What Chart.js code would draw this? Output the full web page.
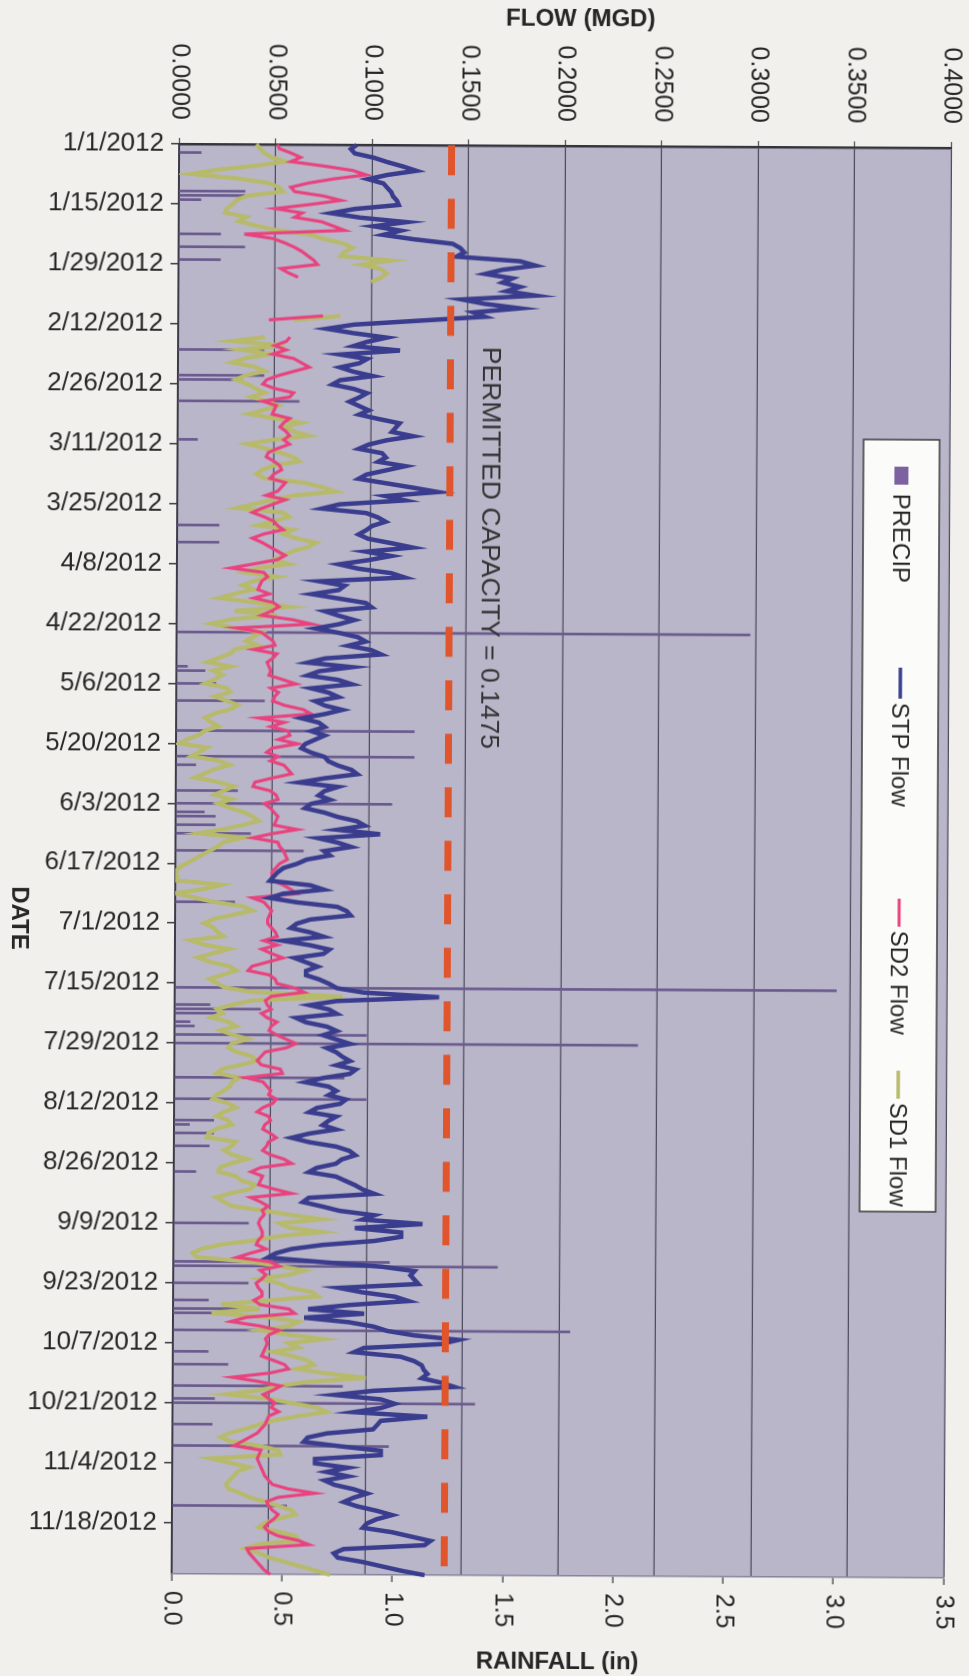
<!DOCTYPE html>
<html><head><meta charset="utf-8">
<script src="https://cdn.jsdelivr.net/npm/chart.js@4.4.1/dist/chart.umd.min.js"></script>
<style>
html,body{margin:0;padding:0;background:#f1f0ec;overflow:hidden;}
body{width:969px;height:1676px;position:relative;}
#wrap{position:absolute;width:1676px;height:969px;left:-353.5px;top:353.5px;transform:rotate(90.3deg);transform-origin:50% 50%;}
canvas{display:block;}
</style></head><body>
<div id="wrap"><canvas id="c" width="1676" height="969"></canvas></div>
<script>
// ---------- DATA ----------
const N_DAYS = 335;   // 1/1/2012 .. 11/30/2012, daily
const DATES = [];
for (let i = 0; i < N_DAYS; i++) { const d = new Date(2012, 0, 1 + i); DATES.push((d.getMonth() + 1) + '/' + d.getDate() + '/' + d.getFullYear()); }

const TICK_LABELS = ['1/1/2012','1/15/2012','1/29/2012','2/12/2012','2/26/2012','3/11/2012','3/25/2012','4/8/2012','4/22/2012','5/6/2012','5/20/2012','6/3/2012','6/17/2012','7/1/2012','7/15/2012','7/29/2012','8/12/2012','8/26/2012','9/9/2012','9/23/2012','10/7/2012','10/21/2012','11/4/2012','11/18/2012'];

const STP_FLOW = [
0.092,0.089,0.091,0.101,0.108,0.116,0.123,0.108,0.098,0.106,
0.108,0.110,0.111,0.113,0.114,0.091,0.079,0.094,0.118,0.101,
0.115,0.106,0.122,0.142,0.146,0.148,0.144,0.177,0.185,0.168,
0.159,0.173,0.168,0.177,0.170,0.185,0.147,0.159,0.177,0.153,
0.159,0.125,0.091,0.077,0.091,0.108,0.098,0.091,0.115,0.084,
0.098,0.094,0.084,0.091,0.101,0.084,0.080,0.091,0.098,0.094,
0.089,0.094,0.099,0.094,0.104,0.115,0.113,0.111,0.122,0.108,
0.099,0.094,0.106,0.108,0.104,0.118,0.108,0.098,0.094,0.108,
0.122,0.135,0.108,0.118,0.084,0.075,0.098,0.104,0.108,0.101,
0.098,0.094,0.099,0.111,0.122,0.098,0.111,0.099,0.084,0.094,
0.111,0.118,0.074,0.087,0.084,0.070,0.084,0.098,0.101,0.077,
0.084,0.092,0.084,0.072,0.084,0.094,0.098,0.089,0.101,0.106,
0.077,0.068,0.091,0.074,0.068,0.084,0.091,0.070,0.079,0.084,
0.072,0.077,0.086,0.077,0.065,0.074,0.077,0.070,0.077,0.072,
0.067,0.065,0.070,0.077,0.079,0.084,0.091,0.094,0.077,0.064,
0.084,0.077,0.074,0.080,0.070,0.067,0.077,0.084,0.094,0.098,
0.084,0.106,0.074,0.084,0.091,0.077,0.080,0.068,0.063,0.056,
0.053,0.051,0.049,0.070,0.077,0.056,0.049,0.063,0.084,0.089,
0.091,0.070,0.063,0.060,0.070,0.077,0.056,0.070,0.080,0.077,
0.062,0.068,0.074,0.068,0.068,0.075,0.080,0.084,0.098,0.137,
0.084,0.070,0.080,0.084,0.063,0.068,0.079,0.084,0.077,0.084,
0.091,0.079,0.084,0.087,0.091,0.084,0.094,0.091,0.077,0.068,
0.080,0.084,0.080,0.089,0.086,0.074,0.070,0.084,0.080,0.077,
0.084,0.070,0.061,0.070,0.084,0.091,0.094,0.087,0.084,0.074,
0.070,0.084,0.089,0.094,0.098,0.104,0.070,0.067,0.077,0.086,
0.104,0.098,0.129,0.094,0.118,0.118,0.104,0.077,0.061,0.053,
0.049,0.077,0.108,0.125,0.123,0.125,0.127,0.086,0.098,0.115,
0.122,0.091,0.070,0.099,0.068,0.091,0.104,0.111,0.125,0.148,
0.139,0.099,0.094,0.118,0.125,0.129,0.130,0.132,0.129,0.139,
0.146,0.104,0.084,0.108,0.115,0.108,0.094,0.132,0.108,0.106,
0.104,0.080,0.070,0.068,0.087,0.108,0.108,0.074,0.074,0.091,
0.080,0.091,0.079,0.084,0.094,0.101,0.094,0.089,0.096,0.106,
0.114,0.106,0.101,0.099,0.114,0.124,0.134,0.131,0.089,0.084,
0.086,0.099,0.109,0.119,0.131];

const SD2_FLOW = [
0.051,0.052,0.058,0.063,0.058,0.075,0.090,0.097,0.080,0.067,
0.058,0.060,0.075,0.084,0.068,0.050,0.064,0.060,0.074,0.080,
0.086,0.034,0.049,0.055,0.060,0.064,0.067,0.070,0.072,0.053,
0.057,0.062,null,null,null,null,null,null,null,null,
0.075,0.047,null,null,null,0.058,0.056,0.050,0.056,0.049,
0.060,0.064,0.068,0.060,0.052,0.046,0.044,0.050,0.060,0.058,
0.044,0.051,0.050,0.049,0.058,0.055,0.053,0.056,0.058,0.055,
0.058,0.052,0.047,0.046,0.050,0.053,0.054,0.050,0.048,0.056,
0.054,0.052,0.046,0.056,0.050,0.044,0.039,0.045,0.050,0.052,
0.055,0.045,0.039,0.044,0.048,0.052,0.056,0.052,0.040,0.028,
0.045,0.047,0.044,0.043,0.042,0.048,0.040,0.050,0.053,0.049,
0.044,0.060,0.070,0.031,0.044,0.047,0.050,0.051,0.040,0.052,
0.050,0.047,0.048,0.049,0.048,0.055,0.062,0.049,0.053,0.051,
0.050,0.056,0.066,0.070,0.043,0.056,0.049,0.058,0.059,0.053,
0.063,0.050,0.047,0.053,0.049,0.056,0.058,0.060,0.050,0.041,
0.040,0.049,0.052,0.053,0.046,0.049,0.051,0.053,0.052,0.051,
0.063,0.050,0.040,0.053,0.054,0.056,0.057,0.058,0.054,0.052,
0.050,0.050,0.051,0.056,0.060,0.063,0.040,0.046,0.048,0.050,
0.049,0.048,0.048,0.050,0.052,0.053,0.046,0.053,0.045,0.050,
0.056,0.048,0.040,0.038,0.049,0.052,0.053,0.062,0.067,0.050,
0.047,0.048,0.050,0.045,0.048,0.053,0.050,0.049,0.053,0.058,
0.063,0.058,0.047,0.045,0.043,0.045,0.055,0.056,0.037,0.046,
0.048,0.050,0.049,0.053,0.051,0.046,0.043,0.049,0.050,0.047,
0.046,0.050,0.053,0.049,0.048,0.046,0.050,0.057,0.061,0.045,
0.040,0.046,0.045,0.044,0.052,0.061,0.040,0.045,0.049,0.046,
0.047,0.045,0.044,0.045,0.046,0.046,0.044,0.043,0.048,0.040,
0.033,0.050,0.055,0.045,0.048,0.046,0.043,0.044,0.046,0.046,
0.042,0.045,0.060,0.063,0.038,0.030,0.045,0.055,0.050,0.048,
0.049,0.048,0.047,0.046,0.052,0.058,0.060,0.050,0.031,0.045,
0.056,0.052,0.047,0.050,0.053,0.051,0.055,0.050,0.049,0.048,
0.046,0.044,0.040,0.036,0.032,0.046,0.045,0.044,0.045,0.046,
0.047,0.048,0.050,0.052,0.060,0.074,0.055,0.049,0.050,0.052,
0.055,0.053,0.050,0.048,0.050,0.055,0.065,0.071,0.039,0.040,
0.042,0.044,0.046,0.048,0.051];

const SD1_FLOW = [
0.040,0.042,0.044,0.048,0.055,0.040,0.020,0.006,0.030,0.046,
0.052,0.054,0.036,0.030,0.028,0.025,0.024,0.035,0.031,0.040,
0.050,0.068,0.075,0.085,0.090,0.086,0.084,0.110,0.095,0.105,
0.108,0.105,0.100,null,null,null,null,null,null,null,
0.084,0.060,null,null,null,0.045,0.028,0.055,0.032,0.048,
0.035,0.028,0.040,0.045,0.035,0.030,0.036,0.040,0.045,0.038,
0.046,0.052,0.045,0.037,0.050,0.064,0.055,0.060,0.068,0.050,
0.036,0.045,0.053,0.060,0.063,0.050,0.044,0.041,0.045,0.066,
0.075,0.082,0.060,0.050,0.040,0.031,0.055,0.058,0.050,0.042,
0.060,0.055,0.062,0.072,0.068,0.060,0.055,0.050,0.058,0.042,
0.035,0.052,0.040,0.034,0.040,0.030,0.022,0.040,0.058,0.030,
0.052,0.028,0.018,0.030,0.044,0.040,0.036,0.042,0.030,0.028,
0.022,0.016,0.028,0.019,0.024,0.020,0.015,0.026,0.028,0.020,
0.026,0.032,0.028,0.020,0.015,0.018,0.022,0.015,0.012,0.006,
0.002,0.016,0.012,0.008,0.022,0.028,0.020,0.015,0.010,0.022,
0.030,0.025,0.020,0.029,0.022,0.028,0.035,0.040,0.043,0.035,
0.025,0.012,0.035,0.025,0.022,0.018,0.014,0.010,0.006,0.002,
0.000,0.001,0.000,0.024,0.015,0.000,0.010,0.020,0.035,0.040,
0.030,0.020,0.015,0.020,0.022,0.025,0.008,0.015,0.028,0.020,
0.012,0.018,0.028,0.032,0.025,0.018,0.022,0.026,0.040,0.087,
0.040,0.030,0.022,0.025,0.019,0.028,0.032,0.024,0.030,0.038,
0.030,0.028,0.032,0.040,0.043,0.035,0.025,0.022,0.034,0.030,
0.029,0.026,0.022,0.020,0.028,0.032,0.026,0.022,0.028,0.030,
0.022,0.018,0.017,0.032,0.030,0.026,0.030,0.038,0.030,0.024,
0.023,0.032,0.035,0.042,0.040,0.030,0.022,0.026,0.030,0.046,
0.060,0.077,0.055,0.060,0.077,0.055,0.042,0.025,0.015,0.010,
0.012,0.040,0.055,0.068,0.060,0.045,0.055,0.060,0.072,0.075,
0.050,0.025,0.045,0.020,0.050,0.065,0.060,0.045,0.060,0.078,
0.060,0.065,0.052,0.062,0.070,0.073,0.064,0.080,0.100,0.070,
0.055,0.045,0.028,0.050,0.062,0.075,0.080,0.065,0.053,0.045,
0.038,0.030,0.025,0.030,0.045,0.055,0.056,0.020,0.030,0.040,
0.034,0.032,0.030,0.028,0.029,0.035,0.040,0.048,0.055,0.062,
0.064,0.055,0.048,0.045,0.055,0.064,0.066,0.045,0.038,0.045,
0.050,0.058,0.066,0.074,0.082];

const PRECIP_DATES = ['1/3/2012','1/12/2012','1/13/2012','1/14/2012','1/22/2012','1/25/2012','1/28/2012','2/18/2012','2/24/2012','2/25/2012','3/1/2012','3/10/2012','3/30/2012','4/3/2012','4/24/2012','5/2/2012','5/3/2012','5/6/2012','5/10/2012','5/17/2012','5/23/2012','5/25/2012','5/31/2012','6/3/2012','6/5/2012','6/6/2012','6/8/2012','6/10/2012','6/14/2012','6/26/2012','7/16/2012','7/20/2012','7/21/2012','7/22/2012','7/24/2012','7/25/2012','7/27/2012','7/29/2012','8/6/2012','8/11/2012','8/16/2012','8/17/2012','8/19/2012','8/22/2012','8/28/2012','9/9/2012','9/18/2012','9/19/2012','9/23/2012','9/27/2012','9/29/2012','9/30/2012','10/4/2012','10/9/2012','10/12/2012','10/17/2012','10/20/2012','10/21/2012','10/26/2012','10/31/2012','11/14/2012'];
const PRECIP_IN = [0.10,0.30,0.30,0.10,0.19,0.30,0.19,0.39,0.39,0.29,0.55,0.09,0.19,0.19,2.60,0.05,0.13,0.18,0.40,1.08,1.08,0.09,0.28,0.98,0.13,0.18,0.18,0.34,0.58,0.27,3.00,0.16,0.39,0.19,0.07,0.09,0.87,2.10,0.77,0.87,0.18,0.07,0.18,0.16,0.10,0.34,0.98,1.47,0.34,0.16,0.34,0.19,1.80,0.16,0.25,0.77,0.19,1.37,0.18,0.98,0.52];

const CAPACITY_LINE = 0.1412;
const CAPACITY_LABEL = 'PERMITTED CAPACITY = 0.1475';
const CAPACITY_LABEL_AT = { date: '2/17/2012', flow: 0.162 };

const FLOW_TICKS = { min: 0, max: 0.4, step: 0.05 };
const RAIN_TICKS = { min: 0, max: 3.5, step: 0.5 };

// ---------- STYLE ----------
const FONT = '"Liberation Sans", Arial, sans-serif';
const TXT = '#262626';
const COLORS = { precip: '#6a5a8e', precipKey: '#7d62a0', stp: '#3a3c8e', sd2: '#e8437e', sd1: '#b7ba6a', cap: '#e1552c', plot: '#b9b6c9' };
const W = 1676, H = 969;
const AREA = { left: 145, right: 1575, top: 22, bottom: 794 };

const precipDaily = DATES.map(d => { const k = PRECIP_DATES.indexOf(d); return k >= 0 ? PRECIP_IN[k] : null; });
const capDaily = DATES.map(() => CAPACITY_LINE);

const plotBg = {
  id: 'plotBg',
  beforeDraw(chart) {
    const { ctx, chartArea: a } = chart;
    ctx.save(); ctx.fillStyle = COLORS.plot; ctx.fillRect(a.left, a.top, a.right - a.left, a.bottom - a.top); ctx.restore();
  }
};

function rotText(ctx, text, x, y, font) {
  ctx.save(); ctx.fillStyle = TXT; ctx.font = font; ctx.translate(x, y); ctx.rotate(-Math.PI / 2);
  ctx.textAlign = 'center'; ctx.textBaseline = 'middle'; ctx.fillText(text, 0, 0); ctx.restore();
}

const extras = {
  id: 'extras',
  afterDraw(chart) {
    const { ctx, chartArea: a, scales } = chart;
    const midV = (a.top + a.bottom) / 2, midU = (a.left + a.right) / 2;
    // axis titles
    rotText(ctx, 'FLOW (MGD)', 18, midV - 15, 'bold 24px ' + FONT);
    rotText(ctx, 'RAINFALL (in)', 1661, midV, 'bold 24px ' + FONT);
    ctx.save(); ctx.fillStyle = TXT; ctx.font = 'bold 24px ' + FONT; ctx.textAlign = 'center'; ctx.textBaseline = 'middle';
    ctx.fillText('DATE', midU + 60, 950); ctx.restore();

    // permitted capacity label
    ctx.save();
    ctx.fillStyle = '#333'; ctx.font = '26.5px ' + FONT; ctx.textAlign = 'left'; ctx.textBaseline = 'middle';
    const lx = scales.x.getPixelForValue(DATES.indexOf(CAPACITY_LABEL_AT.date));
    const ly = scales.yFlow.getPixelForValue(CAPACITY_LABEL_AT.flow);
    ctx.fillText(CAPACITY_LABEL, lx, ly);
    ctx.restore();

    // legend box
    ctx.save();
    ctx.fillStyle = '#fbfbf9'; ctx.strokeStyle = '#3a3a3a'; ctx.lineWidth = 1.5;
    ctx.fillRect(437, 32, 772, 76); ctx.strokeRect(437, 32, 772, 76);
    ctx.font = '24px ' + FONT; ctx.textBaseline = 'middle'; ctx.textAlign = 'left';
    const cy = 70;
    const items = [
      { label: 'PRECIP', box: true, color: COLORS.precipKey, s: 464, t: 491 },
      { label: 'STP Flow', color: COLORS.stp, s: 665, t: 700, w: 3.5 },
      { label: 'SD2 Flow', color: COLORS.sd2, s: 896, t: 928, w: 3 },
      { label: 'SD1 Flow', color: COLORS.sd1, s: 1068, t: 1100, w: 3.5 }
    ];
    items.forEach(it => {
      if (it.box) { ctx.fillStyle = it.color; ctx.fillRect(it.s, cy - 7, 18, 14); }
      else { ctx.strokeStyle = it.color; ctx.lineWidth = it.w; ctx.beginPath(); ctx.moveTo(it.s, cy); ctx.lineTo(it.t - 4, cy); ctx.stroke(); }
      ctx.fillStyle = TXT; ctx.fillText(it.label, it.t, cy + 1);
    });
    ctx.restore();
  }
};

const noPad = s => { s.paddingTop = 0; s.paddingBottom = 0; s.paddingLeft = 0; s.paddingRight = 0; };

new Chart(document.getElementById('c'), {
  data: {
    labels: DATES,
    datasets: [
      { type: 'line', label: 'Capacity', data: capDaily, yAxisID: 'yFlow', borderColor: COLORS.cap, borderWidth: 7, borderDash: [30, 23.5], borderCapStyle: 'butt', pointRadius: 0, order: 0 },
      { type: 'line', label: 'STP Flow', data: STP_FLOW, yAxisID: 'yFlow', borderColor: COLORS.stp, borderWidth: 4.5, pointRadius: 0, tension: 0, order: 1 },
      { type: 'line', label: 'SD2 Flow', data: SD2_FLOW, yAxisID: 'yFlow', borderColor: COLORS.sd2, borderWidth: 3.2, pointRadius: 0, tension: 0, spanGaps: false, order: 2 },
      { type: 'line', label: 'SD1 Flow', data: SD1_FLOW, yAxisID: 'yFlow', borderColor: COLORS.sd1, borderWidth: 4.2, pointRadius: 0, tension: 0, spanGaps: false, order: 3 },
      { type: 'bar', label: 'PRECIP', data: precipDaily, yAxisID: 'yRain', backgroundColor: COLORS.precip, barThickness: 2, order: 4 }
    ]
  },
  options: {
    responsive: false, animation: false, events: [],
    layout: { padding: { top: AREA.top, left: 0, right: 0, bottom: 0 } },
    plugins: { legend: { display: false }, tooltip: { enabled: false } },
    scales: {
      x: {
        type: 'category', offset: false,
        grid: { offset: false, drawOnChartArea: false, drawTicks: true, tickLength: 8, lineWidth: 1.5,
                color: c => (TICK_LABELS.includes(DATES[c.index]) ? '#3a3a44' : 'rgba(0,0,0,0)') },
        border: { display: true, color: '#3c3c48', width: 2 },
        ticks: { autoSkip: false, minRotation: 90, maxRotation: 90, padding: 7, color: TXT, font: { family: FONT, size: 26 },
                 callback: (v, i) => (TICK_LABELS.includes(DATES[i]) ? DATES[i] : '') },
        title: { display: false },
        afterFit: s => { s.height = H - AREA.bottom; noPad(s); }
      },
      yFlow: {
        type: 'linear', position: 'left', min: FLOW_TICKS.min, max: FLOW_TICKS.max,
        ticks: { stepSize: FLOW_TICKS.step, padding: 18, color: TXT, font: { family: FONT, size: 25 }, callback: v => Number(v).toFixed(4) },
        grid: { color: '#4d4c5e', lineWidth: 1.2, tickLength: 6, drawTicks: true },
        border: { color: '#34343c', width: 2.5 },
        title: { display: false },
        afterFit: s => { s.width = AREA.left; noPad(s); }
      },
      yRain: {
        type: 'linear', position: 'right', min: RAIN_TICKS.min, max: RAIN_TICKS.max,
        ticks: { stepSize: RAIN_TICKS.step, padding: 10, color: TXT, font: { family: FONT, size: 25 }, callback: v => Number(v).toFixed(1) },
        grid: { drawOnChartArea: false, tickLength: 7, color: '#55555f', lineWidth: 1.5 },
        border: { color: '#85849a', width: 1.5 },
        afterFit: s => { s.width = W - AREA.right; noPad(s); }
      }
    }
  },
  plugins: [plotBg, extras]
});
</script></body></html>
